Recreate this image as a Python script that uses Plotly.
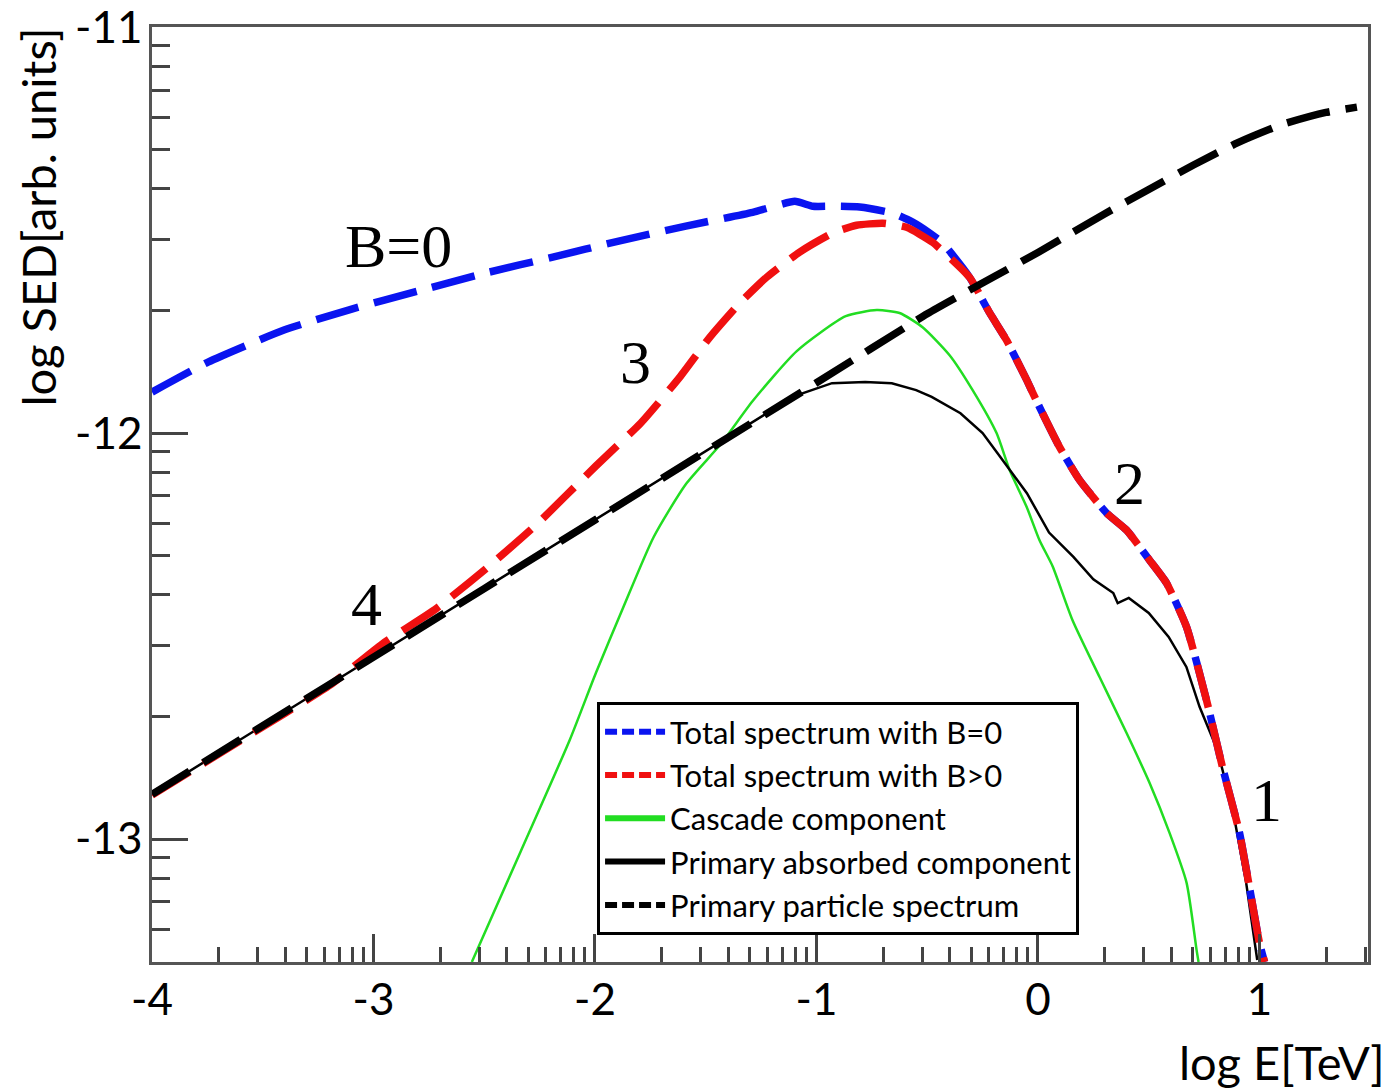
import numpy as np
import plotly.graph_objects as go

# ---- spectra: log10(E / TeV) vs log10(SED) ----
# primary particle spectrum (dashed black)
log_e_primary = [-4.0, -3.0, -2.0, -1.0, -0.5, -0.3, -0.1, 0.0, 0.3, 0.5, 0.7, 0.9, 1.1, 1.3, 1.44]
log_sed_primary = [-12.89, -12.552, -12.214, -11.876, -11.706, -11.645, -11.585, -11.555,
                   -11.46, -11.40, -11.34, -11.285, -11.24, -11.21, -11.197]

# primary absorbed component (solid black)
log_e_absorbed = [-4.0, -3.0, -2.0, -1.5, -1.2, -1.08, -0.93, -0.78, -0.66, -0.55, -0.48,
                  -0.35, -0.25, -0.17, -0.05, 0.05, 0.16, 0.25, 0.34, 0.36, 0.41, 0.5,
                  0.59, 0.67, 0.73, 0.81, 0.88, 0.94, 0.99]
log_sed_absorbed = [-12.89, -12.552, -12.214, -12.045, -11.943, -11.905, -11.877, -11.874,
                    -11.877, -11.894, -11.911, -11.951, -12.0, -12.059, -12.148, -12.245,
                    -12.305, -12.36, -12.394, -12.419, -12.406, -12.443, -12.502, -12.576,
                    -12.675, -12.781, -12.929, -13.108, -13.298]

# cascade component (green)
log_e_cascade = [-2.556, -2.335, -2.114, -1.996, -1.875, -1.735, -1.59, -1.432, -1.288,
                 -1.089, -0.868, -0.728, -0.625, -0.521, -0.399, -0.295, -0.187, -0.128,
                 -0.051, 0.007, 0.066, 0.156, 0.278, 0.4, 0.504, 0.594, 0.671, 0.716, 0.725]
log_sed_cascade = [-13.303, -13.03, -12.756, -12.591, -12.433, -12.256, -12.126, -12.027,
                   -11.921, -11.798, -11.712, -11.697, -11.704, -11.739, -11.808, -11.894,
                   -12.0, -12.091, -12.182, -12.264, -12.328, -12.461, -12.601, -12.739,
                   -12.862, -12.985, -13.108, -13.273, -13.303]

# total spectrum with B>0 (red dashed)
log_e_bpos = [-4.0, -3.6, -3.197, -2.962, -2.718, -2.479, -2.258, -1.996, -1.793, -1.617,
              -1.482, -1.347, -1.225, -1.076, -0.927, -0.819, -0.701, -0.593, -0.476,
              -0.309, -0.218, -0.142, -0.051, 0.007, 0.097, 0.188, 0.31, 0.4, 0.504,
              0.58, 0.671, 0.761, 0.833, 0.91, 1.0, 1.023]
log_sed_bpos = [-12.892, -12.757, -12.621, -12.52, -12.433, -12.328, -12.222, -12.081,
                -11.975, -11.862, -11.764, -11.68, -11.616, -11.554, -11.507, -11.488,
                -11.483, -11.493, -11.53, -11.616, -11.704, -11.771, -11.869, -11.936,
                -12.034, -12.116, -12.197, -12.239, -12.313, -12.369, -12.478, -12.658,
                -12.823, -12.985, -13.256, -13.303]

# total spectrum with B=0 (blue dashed)
log_e_b0 = [-4.0, -3.747, -3.404, -3.102, -2.8, -2.497, -2.195, -1.893, -1.59, -1.288,
            -1.098, -1.017, -0.927, -0.805, -0.656, -0.566, -0.489, -0.43,
            -0.309, -0.218, -0.142, -0.051, 0.007, 0.097, 0.188, 0.31, 0.4, 0.504,
            0.58, 0.671, 0.761, 0.833, 0.91, 1.0, 1.023]
log_sed_b0 = [-11.899, -11.825, -11.746, -11.695, -11.65, -11.606, -11.567, -11.527,
              -11.49, -11.456, -11.429, -11.441, -11.441, -11.443, -11.458, -11.48,
              -11.507, -11.532,
              -11.616, -11.704, -11.771, -11.869, -11.936, -12.034, -12.116, -12.197,
              -12.239, -12.313, -12.369, -12.478, -12.658, -12.823, -12.985, -13.256,
              -13.303]

legend_names = ["Total spectrum with B=0", "Total spectrum with B>0", "Cascade component",
                "Primary absorbed component", "Primary particle spectrum"]

# curve labels: (text, log E, log SED)
curve_labels = [("B=0", -2.885, -11.539), ("3", -1.816, -11.825), ("4", -3.03, -12.421),
                ("2", 0.413, -12.123), ("1", 1.032, -12.904)]

x_range = [-4.0, 1.49]
y_range = [-13.303, -10.9995]
x_decades = [-4, -3, -2, -1, 0, 1]
y_decades = [-13, -12, -11]

BLUE, RED, GREEN, BLACK = "#0a14f0", "#f01010", "#22dd22", "#000000"
BIG_DASH = "44px,16px"
LEG_DASH = "12px,5px"


def lin(v):
    return [10.0 ** t for t in v]


fig = go.Figure()

# drawing order: cascade, absorbed, B=0, B>0, primary on top
fig.add_trace(go.Scatter(x=lin(log_e_cascade), y=lin(log_sed_cascade), mode="lines",
                         line=dict(color=GREEN, width=2.5, shape="spline", smoothing=0.6),
                         showlegend=False))
fig.add_trace(go.Scatter(x=lin(log_e_absorbed), y=lin(log_sed_absorbed), mode="lines",
                         line=dict(color=BLACK, width=2.5), showlegend=False))
fig.add_trace(go.Scatter(x=lin(log_e_b0), y=lin(log_sed_b0), mode="lines",
                         line=dict(color=BLUE, width=7.5, dash=BIG_DASH, shape="spline", smoothing=0.5),
                         showlegend=False))
fig.add_trace(go.Scatter(x=lin(log_e_bpos), y=lin(log_sed_bpos), mode="lines",
                         line=dict(color=RED, width=7.5, dash=BIG_DASH, shape="spline", smoothing=0.5),
                         showlegend=False))
fig.add_trace(go.Scatter(x=lin(log_e_primary), y=lin(log_sed_primary), mode="lines",
                         line=dict(color=BLACK, width=7.5, dash=BIG_DASH, shape="spline", smoothing=0.5),
                         showlegend=False))

# legend entries with short dashes
leg_styles = [(BLUE, 6, LEG_DASH), (RED, 6, LEG_DASH), (GREEN, 6, "solid"),
              (BLACK, 6, "solid"), (BLACK, 6, LEG_DASH)]
for i, (name, (c, w, d)) in enumerate(zip(legend_names, leg_styles)):
    fig.add_trace(go.Scatter(x=[None], y=[None], mode="lines", name=name,
                             line=dict(color=c, width=w, dash=d),
                             legendgroup=f"g{i}", legendrank=i + 1))

for text, lx, ly in curve_labels:
    fig.add_annotation(x=lx, y=ly, xref="x", yref="y", text=text, showarrow=False,
                       font=dict(family="Liberation Serif, Times New Roman, serif", size=62, color="black"))

fig.add_annotation(x=-0.094, y=0.797, xref="paper", yref="paper", text="log SED[arb. units]",
                   textangle=-90, showarrow=False, xanchor="center", yanchor="middle",
                   font=dict(family="Lato", size=47, color="black"))
fig.add_annotation(x=1.016, y=-0.107, xref="paper", yref="paper", text="log E[TeV]",
                   showarrow=False, xanchor="right", yanchor="middle",
                   font=dict(family="Lato", size=47, color="black"))

x_minor = [k * 10.0 ** n for n in range(-5, 2) for k in range(2, 10)]
y_minor = [k * 10.0 ** n for n in range(-14, -10) for k in range(2, 10)]

axis_common = dict(type="log", showgrid=False, zeroline=False, showline=True, mirror=True,
                   linecolor="#555555", linewidth=2.5, ticks="inside", tickcolor="#444444",
                   tickwidth=2.5, ticklabeloverflow="allow",
                   tickfont=dict(family="Lato", size=44, color="black"))

fig.update_xaxes(**axis_common, range=x_range, tickmode="array",
                 tickvals=[10.0 ** d for d in x_decades], ticktext=[str(d) for d in x_decades],
                 ticklen=28, ticklabelstandoff=-3,
                 minor=dict(tickmode="array", tickvals=x_minor, ticks="inside", ticklen=15,
                            tickwidth=2.5, tickcolor="#444444", showgrid=False))
fig.update_yaxes(**axis_common, range=y_range, tickmode="array",
                 tickvals=[10.0 ** d for d in y_decades], ticktext=[str(d) for d in y_decades],
                 ticklen=36, ticklabelstandoff=-2,
                 minor=dict(tickmode="array", tickvals=y_minor, ticks="inside", ticklen=18,
                            tickwidth=2.5, tickcolor="#444444", showgrid=False))

fig.update_layout(
    width=1388, height=1091,
    margin=dict(l=152, r=20, t=27, b=129, autoexpand=False),
    paper_bgcolor="white", plot_bgcolor="white",
    legend=dict(x=0.366, y=0.278, xanchor="left", yanchor="top",
                bgcolor="white", bordercolor="black", borderwidth=3,
                font=dict(family="Lato", size=31, color="black"),
                traceorder="grouped", tracegroupgap=0, itemwidth=60),
)

fig.write_html("out.html")
